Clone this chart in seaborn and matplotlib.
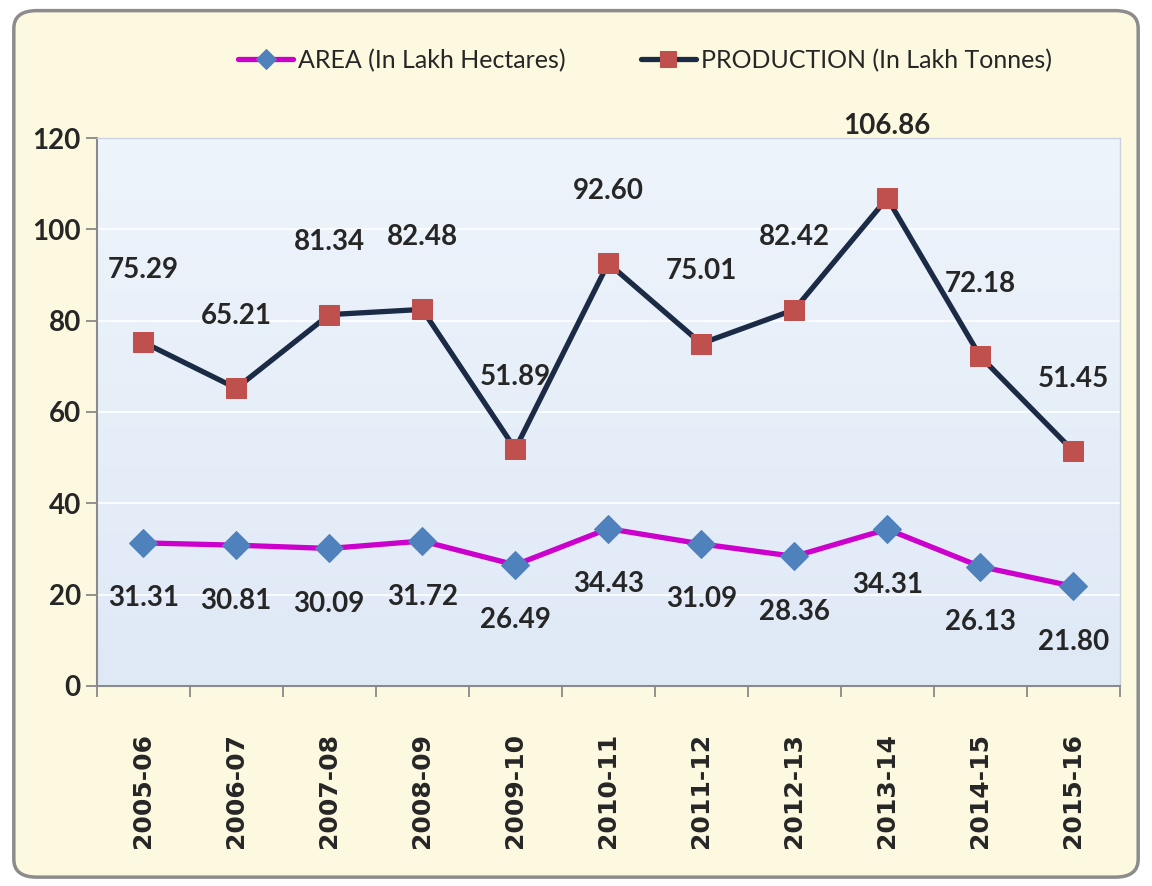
import numpy as np
import pandas as pd
import matplotlib
matplotlib.use("Agg")
import matplotlib.pyplot as plt
import seaborn as sns
from matplotlib.patches import FancyBboxPatch

# Data
years = ["2005-06", "2006-07", "2007-08", "2008-09", "2009-10", "2010-11",
         "2011-12", "2012-13", "2013-14", "2014-15", "2015-16"]
area = [31.31, 30.81, 30.09, 31.72, 26.49, 34.43, 31.09, 28.36, 34.31, 26.13, 21.80]
production = [75.29, 65.21, 81.34, 82.48, 51.89, 92.60, 75.01, 82.42, 106.86, 72.18, 51.45]

df = pd.DataFrame({"Year": years, "Area": area, "Production": production})

sns.set_style("white")
narrow = ["Lato", "DejaVu Sans"]
plt.rcParams["font.family"] = narrow

fig = plt.figure(figsize=(11.52, 8.86), dpi=100)
fig.patch.set_facecolor("white")

# outer rounded frame
frame = FancyBboxPatch((0.012, 0.01), 0.976, 0.978, boxstyle="round,pad=0,rounding_size=0.02",
                       transform=fig.transFigure, facecolor="#fdf9e0", edgecolor="#8c8c8c",
                       linewidth=2.5, zorder=-5)
fig.patches.append(frame)

ax = fig.add_axes([0.084, 0.226, 0.888, 0.618])
ax.set_zorder(2)
ax.set_facecolor("#e6eef9")
grad = np.linspace(0, 1, 100).reshape(-1, 1)
ax.imshow(grad, extent=[0, 1, 0, 1], transform=ax.transAxes, aspect="auto", origin="lower",
          cmap=matplotlib.colors.LinearSegmentedColormap.from_list("bg", ["#dfe9f6", "#eef4fb"]),
          zorder=0)

sns.lineplot(data=df, x="Year", y="Production", ax=ax, color="#1b2a45", linewidth=3.8,
             marker="s", markersize=15, markerfacecolor="#c0504d", markeredgecolor="#c0504d",
             label="PRODUCTION (In Lakh Tonnes)", zorder=3, sort=False)
sns.lineplot(data=df, x="Year", y="Area", ax=ax, color="#cc00cc", linewidth=3.8,
             marker="D", markersize=14, markerfacecolor="#4f81bd", markeredgecolor="#4f81bd",
             label="AREA (In Lakh Hectares)", zorder=3, sort=False)

for i, v in enumerate(production):
    ax.annotate(f"{v:.2f}", (i, v), xytext=(0, 52), textcoords="offset points",
                ha="center", va="center", fontsize=20, fontweight="bold", family=narrow)
for i, v in enumerate(area):
    ax.annotate(f"{v:.2f}", (i, v), xytext=(0, -40), textcoords="offset points",
                ha="center", va="center", fontsize=20, fontweight="bold", family=narrow)

ax.set_xlim(-0.5, 10.5)
ax.set_ylim(0, 120)
ax.set_yticks(range(0, 121, 20))
ax.yaxis.grid(True, color="#ffffff", linewidth=1.2)
ax.set_axisbelow(True)
ax.set_xticks(range(len(years)))
ax.set_xticklabels(years, rotation=90, fontsize=18, fontweight="bold", family="DejaVu Sans")
ax.set_xticks(np.arange(-0.5, 11, 1), minor=True)
ax.tick_params(axis="x", which="major", length=0, pad=34)
ax.tick_params(axis="x", which="minor", length=8, color="#7f7f7f", width=1.2, direction="out", bottom=True)
ax.tick_params(axis="y", length=8, color="#7f7f7f", width=1.2, direction="out", left=True, labelsize=20)
for lab in ax.get_yticklabels():
    lab.set_family(narrow)
    lab.set_fontweight("bold")
ax.set_xlabel("")
ax.set_ylabel("")
for side in ["left", "bottom"]:
    ax.spines[side].set_color("#8a8a8a")
    ax.spines[side].set_linewidth(1.5)
for side in ["top", "right"]:
    ax.spines[side].set_color("#c9d3e0")
    ax.spines[side].set_linewidth(1.0)

handles, labels = ax.get_legend_handles_labels()
ax.get_legend().remove()
fig.legend(handles[::-1], labels[::-1], loc="center", bbox_to_anchor=(0.56, 0.932), ncol=2,
           frameon=False, columnspacing=3.0, handlelength=2.2, handletextpad=0.2,
           markerscale=0.75, prop={"family": narrow, "size": 18})

fig.savefig("out.png", dpi=100, facecolor=fig.get_facecolor())
